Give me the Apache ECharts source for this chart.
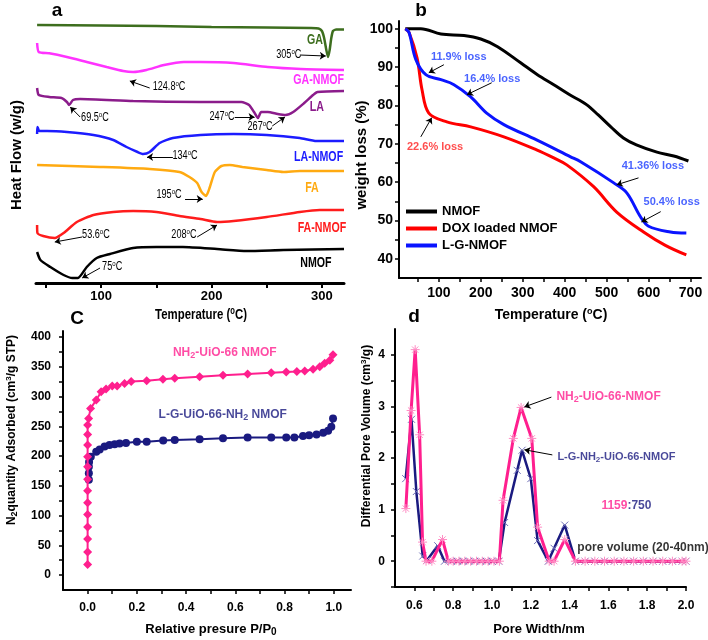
<!DOCTYPE html>
<html><head><meta charset="utf-8">
<script src="https://cdn.jsdelivr.net/npm/echarts@6/dist/echarts.min.js"></script>
<style>html,body{margin:0;padding:0;background:#fff}#c{width:708px;height:640px}</style>
</head><body><div id="c"></div><script>
// ---------- Panel a : DSC (temperature °C, heat flow, arbitrary offset units) ----------
const gaT = [42,100,150,200,250,290,297,300,302,304,305.5,307,308.5,310,313,320];
const gaV = [25.8,25.75,25.7,25.6,25.55,25.5,25.45,25.2,24.5,23.3,22.6,23.3,24.5,25.2,25.35,25.35];
const gaNmofT = [42,43.5,53,69,87,105,120,129,141,157,175,190,220,251,281,320];
const gaNmofV = [24.0,23.1,22.97,22.6,22.1,21.6,21.2,21.1,21.3,21.8,22.1,22.1,22.0,21.6,21.4,21.3];
const laT = [42,43.5,53,64,69,71,74.5,81,129,190,227,234,238.5,242,245,251,260,267,274,284,292,296,320];
const laV = [19.5,18.8,18.6,18.5,18.1,17.8,18.3,18.4,18.2,18.1,18.1,17.8,17.1,16.5,17.1,17.1,16.9,16.8,17.1,18.0,18.8,19.1,19.2];
const laNmofT = [42,42.3,44,51,69,93,111,123,133,138,144,153,165,190,220,250,280,295,320];
const laNmofV = [14.9,15.6,15.2,15.2,15.1,14.8,14.3,13.6,13.1,12.9,13.1,14.0,14.5,14.8,14.9,14.8,14.5,14.2,14.2];
const faT = [42,99,144,171,180,187,191,195,198.5,203,209,216.5,228,250,265,280,320];
const faV = [11.8,11.6,11.4,11.1,10.6,10.0,9.1,8.7,9.6,11.1,11.7,11.8,11.6,11.3,11.1,11.2,11.2];
const faNmofT = [42,42.3,47.5,58,66,78,93,111,129,150,171,190,205,220,250,280,298,320];
const faNmofV = [5.8,5.0,4.7,4.5,5.0,6.1,6.8,7.1,7.2,7.1,6.7,6.4,6.1,6.2,6.6,7.1,7.3,7.3];
const nmofDscT = [42,45,54,66,74,79,87,96,108,129,150,174,205,232,265,320];
const nmofDscV = [3.1,2.3,1.6,0.8,0.5,0.5,1.6,2.5,2.9,3.5,3.6,3.6,3.4,3.2,3.3,3.4];
const aTicks = [50,100,150,200,250,300];
const aLabels = [100,200,300];

// ---------- Panel b : TGA ----------
const tgaNmofT = [20,57,105,160,200,240,295,335,374,410,452,480,510,540,571,620,660,695];
const tgaNmofV = [100,100,98.6,98.2,97.3,95.3,91.1,88,85.4,82.9,80.2,77.5,74.4,71.5,69.7,67.8,66.8,65.5];
const tgaDoxT = [20,29,48,60,76,119,176,255,333,374,405,469,524,588,640,690];
const tgaDoxV = [100,99,92.4,84,78,75.7,74.4,71.8,68.4,66.3,64.5,58.8,52.2,47,43.5,41];
const tgaLgT = [20,29,45,69,105,136,176,214,255,333,414,438,517,548,581,600,652,690];
const tgaLgV = [100,99,92,88,86.7,85.4,82.2,78,75,71,66.6,65.3,59.8,57.2,50.9,48.5,47,46.7];
const bxTicks = [50,100,150,200,250,300,350,400,450,500,550,600,650,700];
const bxLabels = [100,200,300,400,500,600,700];
const byTicks = [40,45,50,55,60,65,70,75,80,85,90,95,100];
const byLabels = [40,50,60,70,80,90,100];

// ---------- Panel c : N2 isotherms ----------
const isoPinkP = [0,0,0,0,0,0,0,0,0,0,0,0,0,0.004,0.012,0.035,0.055,0.075,0.1,0.12,0.15,0.177,0.24,0.306,0.354,0.455,0.55,0.65,0.746,0.807,0.85,0.882,0.916,0.943,0.963,0.984,0.997];
const isoPinkQ = [18,39,60.5,80.7,102,121.5,141.7,161,182,199,218.5,236,252,263,280,294,308,312.6,317.6,317.6,322,325,326.6,329,330.5,333,335.6,337.8,340,341,342,343,345.6,350,355.8,361,370];
const isoNavyP = [0.005,0.005,0.005,0.006,0.013,0.035,0.049,0.069,0.089,0.11,0.13,0.156,0.2,0.24,0.307,0.354,0.455,0.55,0.65,0.746,0.807,0.84,0.875,0.9,0.93,0.957,0.977,0.99,0.997];
const isoNavyQ = [160,171,182,190,199,207,211,216,218.5,220,221,222,224,224,226,227,228,230,231,231,231,231,233.6,235,236,239,242.5,249,263];
const cxTicks = [0,0.1,0.2,0.3,0.4,0.5,0.6,0.7,0.8,0.9,1.0];
const cxLabels = [0,0.2,0.4,0.6,0.8,1.0];
const cyTicks = [0,25,50,75,100,125,150,175,200,225,250,275,300,325,350,375,400];
const cyLabels = [0,50,100,150,200,250,300,350,400];

// ---------- Panel d : pore size distribution ----------
const psdPinkW = [0.556,0.583,0.604,0.627,0.642,0.66,0.69,0.745,0.775,0.8,0.83,0.86,0.89,0.92,0.95,0.98,1.01,1.038,1.057,1.11,1.15,1.205,1.235,1.295,1.32,1.375,1.43,1.48,1.53,1.58,1.63,1.68,1.73,1.78,1.83,1.88,1.93,1.98,2.0];
const psdPinkV = [1.02,2.92,4.1,2.45,0.37,0,0,0.42,0,0,0,0,0,0,0,0,0,0,1.18,2.38,2.98,2.38,0.66,0,0,0.42,0,0,0,0,0,0,0,0,0,0,0,0,0];
const psdNavyW = [0.555,0.585,0.61,0.643,0.665,0.72,0.755,0.79,0.82,0.85,0.88,0.91,0.94,0.97,1.0,1.035,1.065,1.13,1.155,1.2,1.235,1.29,1.32,1.375,1.43,1.48,1.53,1.58,1.63,1.68,1.73,1.78,1.83,1.88,1.93,1.98,2.0];
const psdNavyV = [1.6,2.75,1.35,0.1,0.02,0.3,0,0,0,0,0,0,0,0,0,0,0.75,1.76,2.15,1.6,0.4,0,0.25,0.7,0,0,0,0,0,0,0,0,0,0,0,0,0];
const dxTicks = [0.6,0.7,0.8,0.9,1.0,1.1,1.2,1.3,1.4,1.5,1.6,1.7,1.8,1.9,2.0];
const dxLabels = [0.6,0.8,1.0,1.2,1.4,1.6,1.8,2.0];
const dyTicks = [-0.5,0,0.5,1,1.5,2,2.5,3,3.5,4];
const dyLabels = [0,1,2,3,4];

// ---------- Panel a text (data coordinates) ----------
const aSeriesLabels = [
  [293.7, 24.3, 'GA', '#3d6e1e'], [297, 20.3, 'GA-NMOF', '#ff33ff'], [295.5, 17.6, 'LA', '#8b1c8b'],
  [297, 12.6, 'LA-NMOF', '#1c1cff'], [291, 9.5, 'FA', '#ffaa11'], [300, 5.5, 'FA-NMOF', '#ff1c1c'],
  [294.6, 2.0, 'NMOF', '#000']
];
const aPeakLabels = [
  [270, 22.8, '305'], [161.5, 19.6, '124.8'], [94.4, 16.5, '69.5'], [209.5, 16.6, '247'], [244, 15.6, '267'],
  [176, 12.7, '134'], [161.5, 8.8, '195'], [95.3, 4.8, '53.6'], [175, 4.8, '208'], [110, 1.6, '75']
];

// ---------- helpers ----------
const FONT = "'Liberation Sans', Arial, Helvetica, sans-serif";
const SQ = 0.76;   // horizontal squeeze of panel-a lettering
const PINK = '#ff1f8e', NAVY = '#1a1a80';
function pairs(xs, ys){ return xs.map((x, i) => [x, ys[i]]); }
function rich(size, color, fam, weight){
  const base = {color: color, fontFamily: fam, fontWeight: weight};
  return {
    s: Object.assign({}, base, {fontSize: Math.round(size*0.65), padding:[0,0,Math.round(size*0.5),0], verticalAlign:'middle'}),
    b: Object.assign({}, base, {fontSize: Math.round(size*0.75), padding:[Math.round(size*0.45),0,0,0], verticalAlign:'middle'}),
    p: Object.assign({}, base, {fontSize: size, color: PINK}),
    n: Object.assign({}, base, {fontSize: size, color: NAVY})
  };
}
function axisCfg(grid, min, max, ticks, labels, fmt, o){
  return {
    gridIndex: grid, type:'value', min: min, max: max,
    axisLine:{show:true, onZero:false, lineStyle:{color:'#000', width:o.lineW || 2}},
    axisTick:{show:true, customValues: ticks, length: o.tickLen || 4, inside:false, lineStyle:{color:'#000', width: o.tickW || 1.5}},
    axisLabel:{show:true, customValues: labels, formatter: fmt, color:'#000', fontSize:o.size, fontWeight:'bold', fontFamily:FONT, margin:o.margin},
    splitLine:{show:false}
  };
}
function annSeries(idx, items){
  return {
    type:'scatter', xAxisIndex: idx, yAxisIndex: idx, symbolSize: 1, silent: true, clip: false, z: 20,
    itemStyle:{color:'rgba(0,0,0,0)'},
    data: items.map(it => ({
      value: [it[0], it[1]],
      label: {show:true, position:'inside', formatter: it[2], color: it[3], fontSize: it[4], fontWeight: it[5],
              fontFamily: FONT, align: it[6] || 'center', verticalAlign:'middle',
              rich: rich(it[4], it[3], FONT, it[5])}
    }))
  };
}
function arrowSeries(idx, segs, w){
  return {
    type:'lines', coordinateSystem:'cartesian2d', xAxisIndex: idx, yAxisIndex: idx, silent:true, z: 19,
    symbol:['none','arrow'], symbolSize: 6,
    lineStyle:{color:'#000', width: w || 1, opacity: 1, curveness: 0},
    data: segs.map(s => ({coords: s}))
  };
}
function dscLine(name, T, V, color){
  return {type:'line', name: name, xAxisIndex:0, yAxisIndex:0, data: pairs(T, V), symbol:'none', showSymbol:false,
    smooth:0.2, lineStyle:{color: color, width:2.5}, itemStyle:{color: color}, z:3};
}
function tgaLine(name, T, V, color){
  return {type:'line', name: name, xAxisIndex:1, yAxisIndex:1, data: pairs(T, V), symbol:'none', showSymbol:false,
    smooth:0.35, lineStyle:{color: color, width:3}, itemStyle:{color: color}, z:3};
}
const ASTER = 'path://M0,-5L0,5M-5,0L5,0M-3.5,-3.5L3.5,3.5M-3.5,3.5L3.5,-3.5';
const XMARK = 'path://M-4,-4L4,4M-4,4L4,-4';

function gText(x, y, text, size, opts){
  opts = opts || {};
  const color = opts.color || '#000';
  const weight = opts.weight || 'bold';
  return {
    type:'text', x: x, y: y, rotation: opts.rot || 0, scaleX: opts.sx || 1, silent:true, z: 30,
    style:{text: text, fill: color, fontSize: size, fontWeight: weight, fontFamily: FONT,
      font: weight + ' ' + size + 'px ' + FONT,
      align:'center', verticalAlign:'middle', textAlign:'center', textVerticalAlign:'middle',
      rich: rich(size, color, FONT, weight)}
  };
}

const baseGraphic = [
  gText(57, 11, 'a', 19),
  gText(421, 11, 'b', 19),
  gText(77, 319, 'C', 19),
  gText(414, 317, 'd', 19),
  gText(17, 155, 'Heat Flow (w/g)', 15, {rot: Math.PI/2}),
  gText(362, 155, 'weight loss (%)', 15, {rot: Math.PI/2}),
  gText(12, 430, 'N{b|2}quantity Adsorbed (cm{s|3}/g STP)', 12, {rot: Math.PI/2}),
  gText(367, 436, 'Differential Pore Volume (cm{s|3}/g)', 12, {rot: Math.PI/2}),
  gText(201, 315, 'Temperature ({s|o}C)', 15, {sx: SQ}),
  gText(551, 315, 'Temperature ({s|o}C)', 14),
  gText(211, 629, 'Relative presure P/P{b|0}', 13),
  gText(539, 629, 'Pore Width/nm', 13)
];

const option = {
  animation:false,
  backgroundColor:'#fff',
  textStyle:{fontFamily: FONT},
  grid:[
    {left:36, top:20, width:308, height:263, containLabel:false, outerBoundsMode:'none'},
    {left:399, top:21, width:302, height:257, containLabel:false, outerBoundsMode:'none'},
    {left:63, top:331, width:288, height:259, containLabel:false, outerBoundsMode:'none'},
    {left:395, top:329, width:291, height:258, containLabel:false, outerBoundsMode:'none'}
  ],
  legend:{
    data:['NMOF','DOX loaded NMOF','L-G-NMOF'], orient:'vertical', left:401, top:200,
    itemWidth:31, itemHeight:4, itemGap:4, icon:'rect', selectedMode:false,
    textStyle:{fontSize:13, fontWeight:'bold', color:'#000', fontFamily: FONT}
  },
  xAxis:[
    axisCfg(0, 41, 320, aTicks, aLabels, v => String(v), {lineW:3, size:13, margin:7, tickLen:5, tickW:2}),
    axisCfg(1, 5, 725, bxTicks, bxLabels, v => String(v), {size:14, margin:8}),
    axisCfg(2, -0.1, 1.07, cxTicks, cxLabels, v => v.toFixed(1), {size:12, margin:12}),
    axisCfg(3, 0.5, 2.0, dxTicks, dxLabels, v => v.toFixed(1), {size:12, margin:13})
  ],
  yAxis:[
    {gridIndex:0, type:'value', min:0, max:26.3, show:false},
    axisCfg(1, 35, 102, byTicks, byLabels, v => String(v), {size:14, margin:6}),
    axisCfg(2, -25, 410, cyTicks, cyLabels, v => String(v), {size:12, margin:12}),
    axisCfg(3, -0.5, 4.5, dyTicks, dyLabels, v => String(v), {size:12, margin:10})
  ],
  series:[
    dscLine('GA', gaT, gaV, '#3d6e1e'),
    dscLine('GA-NMOF', gaNmofT, gaNmofV, '#ff33ff'),
    dscLine('LA', laT, laV, '#8b1c8b'),
    dscLine('LA-NMOF', laNmofT, laNmofV, '#1c1cff'),
    dscLine('FA', faT, faV, '#ffaa11'),
    dscLine('FA-NMOF', faNmofT, faNmofV, '#ff1c1c'),
    dscLine('DSC NMOF', nmofDscT, nmofDscV, '#000000'),
    arrowSeries(0, [
      [[280,22.8],[303.5,22.7]], [[144,19.5],[126,20.2]], [[81,16.6],[72,17.6]],
      [[221,16.6],[239,16.6]], [[255,15.7],[266.5,16.6]], [[165,12.6],[141.6,12.6]],
      [[176,8.4],[192,8.4]], [[82.8,4.6],[58,4.1]], [[187,4.6],[205,5.8]], [[99,1.5],[82.8,0.5]]
    ]),

    tgaLine('NMOF', tgaNmofT, tgaNmofV, '#000000'),
    tgaLine('DOX loaded NMOF', tgaDoxT, tgaDoxV, '#ff0000'),
    tgaLine('L-G-NMOF', tgaLgT, tgaLgV, '#0a14ff'),
    annSeries(1, [
      [81, 92.7, '11.9% loss', '#1c3cff', 11, 'bold', 'left'],
      [160, 87.0, '16.4% loss', '#1c3cff', 11, 'bold', 'left'],
      [24, 69.2, '22.6% loss', '#ff2020', 11, 'bold', 'left'],
      [536, 64.3, '41.36% loss', '#1c3cff', 11, 'bold', 'left'],
      [588, 54.9, '50.4% loss', '#1c3cff', 11, 'bold', 'left']
    ]),
    arrowSeries(1, [
      [[112,90.6],[76,88.5]], [[226,85.9],[167,82.8]], [[57,71.8],[83,76.8]],
      [[576,61.1],[524,59.3]], [[629,52.3],[583,49.6]]
    ]),

    {type:'line', name:'L-G-UiO-66-NH2 NMOF', xAxisIndex:2, yAxisIndex:2, data: pairs(isoNavyP, isoNavyQ),
      symbol:'circle', symbolSize:8, showSymbol:true, lineStyle:{color:NAVY, width:2}, itemStyle:{color:NAVY}, z:3},
    {type:'line', name:'NH2-UiO-66 NMOF', xAxisIndex:2, yAxisIndex:2, data: pairs(isoPinkP, isoPinkQ),
      symbol:'diamond', symbolSize:9, showSymbol:true, lineStyle:{color:PINK, width:2}, itemStyle:{color:PINK}, z:4},
    annSeries(2, [
      [0.557, 373, 'NH{b|2}-UiO-66 NMOF', PINK, 12, 'bold', 'center'],
      [0.549, 269, 'L-G-UiO-66-NH{b|2} NMOF', NAVY, 12, 'bold', 'center']
    ]),

    {type:'line', name:'L-G-NH2-UiO-66-NMOF', xAxisIndex:3, yAxisIndex:3, data: pairs(psdNavyW, psdNavyV),
      symbol: XMARK, symbolSize:7, showSymbol:true, lineStyle:{color:NAVY, width:2.5},
      itemStyle:{color:'none', borderColor:'#7070b8', borderWidth:1}, z:3},
    {type:'line', name:'NH2-UiO-66-NMOF', xAxisIndex:3, yAxisIndex:3, data: pairs(psdPinkW, psdPinkV),
      symbol: ASTER, symbolSize:9, showSymbol:true, lineStyle:{color:PINK, width:3},
      itemStyle:{color:'none', borderColor:'#ff8cc4', borderWidth:1}, z:4},
    annSeries(3, [
      [1.332, 3.18, 'NH{b|2}-UiO-66-NMOF', PINK, 12, 'bold', 'left'],
      [1.337, 2.02, 'L-G-NH{b|2}-UiO-66-NMOF', NAVY, 11, 'bold', 'left'],
      [1.564, 1.07, '{p|1159}{n|:750}', NAVY, 12, 'bold', 'left'],
      [1.44, 0.26, 'pore volume (20-40nm)', '#000', 12, 'bold', 'left']
    ]),
    arrowSeries(3, [ [[1.306,3.18],[1.167,2.99]], [[1.311,2.06],[1.167,2.16]] ])
  ],
  graphic: baseGraphic
};
const chart = echarts.init(document.getElementById('c'), null, {renderer:'canvas'});
chart.setOption(option);

// panel-a lettering: placed from data coordinates through the chart's own scales, squeezed like the original
const extra = [];
aSeriesLabels.forEach(l => {
  const p = chart.convertToPixel({gridIndex:0}, [l[0], l[1]]);
  extra.push(gText(p[0], p[1], l[2], 14, {color: l[3], sx: SQ}));
});
aPeakLabels.forEach(l => {
  const p = chart.convertToPixel({gridIndex:0}, [l[0], l[1]]);
  extra.push(gText(p[0], p[1], l[2] + '{s|o}C', 12, {weight:'normal', sx: SQ}));
});
chart.setOption({graphic: baseGraphic.concat(extra)});
</script></body></html>
